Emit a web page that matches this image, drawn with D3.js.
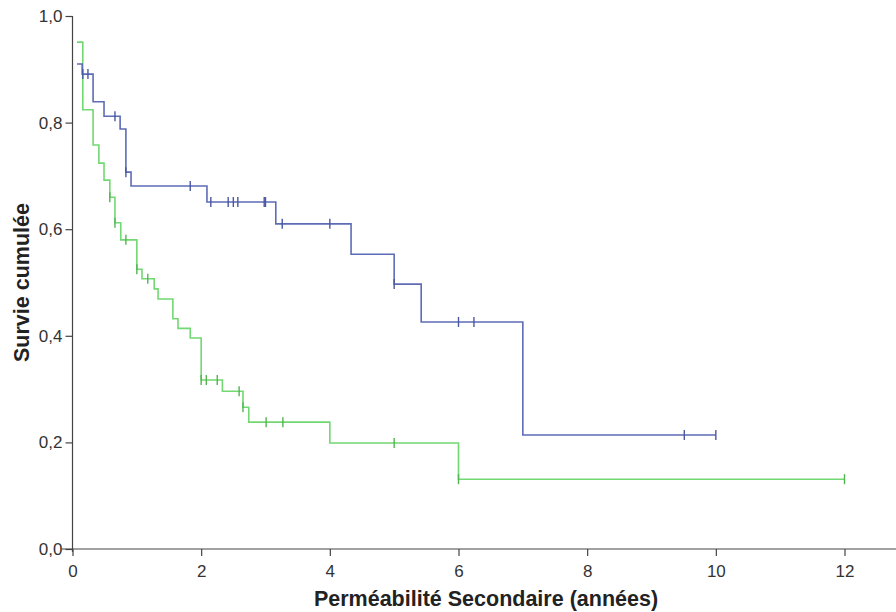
<!DOCTYPE html>
<html><head><meta charset="utf-8">
<script src="https://cdn.jsdelivr.net/npm/d3@7"></script>
<style>
html,body{margin:0;padding:0;background:#fff;}
svg{display:block;font-family:"Liberation Sans",Arial,sans-serif;}
</style></head>
<body><svg id="c" width="896" height="612"></svg>
<script>
// ---- data ----
const xTicks = [0, 2, 4, 6, 8, 10, 12];
const yTicks = [0, 0.2, 0.4, 0.6, 0.8, 1.0];

const blueStart = [0.07, 0.91];
const blueTimes = [0.15, 0.32, 0.49, 0.74, 0.83, 0.91, 2.09, 3.16, 4.33, 5.0, 5.42, 7.0];
const blueSurv  = [0.891, 0.839, 0.812, 0.788, 0.707, 0.681, 0.651, 0.610, 0.553, 0.497, 0.426, 0.214];
const blueCensor = [0.16, 0.24, 0.66, 0.83, 1.83, 2.15, 2.42, 2.50, 2.57, 2.98, 3.0, 3.26, 4.0, 5.0, 6.0, 6.24, 9.51, 10.0];

const greenStart = [0.07, 0.951];
const greenTimes = [0.16, 0.32, 0.41, 0.49, 0.58, 0.66, 0.75, 1.0, 1.08, 1.27, 1.33, 1.56, 1.64, 1.83, 2.0, 2.33, 2.65, 2.74, 4.0, 6.0];
const greenSurv  = [0.824, 0.758, 0.724, 0.692, 0.660, 0.612, 0.580, 0.525, 0.507, 0.488, 0.469, 0.432, 0.414, 0.396, 0.317, 0.296, 0.266, 0.238, 0.199, 0.131];
const greenCensor = [0.58, 0.66, 0.83, 1.0, 1.17, 2.0, 2.08, 2.25, 2.59, 2.65, 3.01, 3.27, 5.0, 6.0, 12.0];

const xTitle = "Perméabilité Secondaire (années)";
const yTitle = "Survie cumulée";

// ---- drawing ----
const svg = d3.select("#c");
const x = d3.scaleLinear().domain([0, 12]).range([72.5, 844.5]);
const y = d3.scaleLinear().domain([0, 1]).range([549, 16]);
const fmt = d => d.toFixed(1).replace(".", ",");
const axisCol = "#444";
const tickFont = "'Liberation Sans Narrow','Arial Narrow','Liberation Sans',Arial,sans-serif";

// x axis line extended
svg.append("line").attr("x1", 62).attr("x2", 896).attr("y1", y(0)).attr("y2", y(0))
  .attr("stroke", axisCol).attr("stroke-width", 1.2);
const gx = svg.append("g").attr("transform", `translate(0,${y(0)})`)
  .call(d3.axisBottom(x).tickValues(xTicks).tickFormat(d3.format("d")).tickSize(7).tickPadding(9));
gx.select(".domain").remove();
gx.selectAll("line").attr("stroke", axisCol).attr("stroke-width", 1.2);
gx.selectAll("text").attr("font-size", 17).attr("fill", "#333").style("font-family", tickFont);

const gy = svg.append("g").attr("transform", `translate(${x(0)},0)`)
  .call(d3.axisLeft(y).tickValues(yTicks).tickFormat(fmt).tickSize(7).tickPadding(3));
gy.select(".domain").attr("stroke", axisCol).attr("stroke-width", 1.2).attr("d", `M0,${y(1)}V${y(0)+3}`);
gy.selectAll("line").attr("stroke", axisCol).attr("stroke-width", 1.2);
gy.selectAll("text").attr("font-size", 17).attr("fill", "#333").style("font-family", tickFont);

function drawCurve(start, times, surv, censor, col, markCol) {
  const last = Math.max(d3.max(censor), d3.max(times));
  const pts = [start].concat(times.map((t, i) => [t, surv[i]]));
  pts.push([last, surv[surv.length - 1]]);
  svg.append("path").datum(pts)
    .attr("d", d3.line().x(d => x(d[0])).y(d => y(d[1])).curve(d3.curveStepAfter))
    .attr("fill", "none").attr("stroke", col).attr("stroke-width", 1.6);
  const survAt = t => {
    let s = start[1];
    times.forEach((tt, i) => { if (tt <= t + 1e-9) s = surv[i]; });
    return s;
  };
  svg.append("g").selectAll("line").data(censor).join("line")
    .attr("x1", d => x(d)).attr("x2", d => x(d))
    .attr("y1", d => y(survAt(d)) - 5).attr("y2", d => y(survAt(d)) + 5)
    .attr("stroke", markCol).attr("stroke-width", 1.4);
}
drawCurve(greenStart, greenTimes, greenSurv, greenCensor, "#72d872", "#52b452");
drawCurve(blueStart, blueTimes, blueSurv, blueCensor, "#5e6cb8", "#4a57a2");

svg.append("text").attr("x", 486).attr("y", 606).attr("text-anchor", "middle")
  .attr("font-size", 21.5).attr("font-weight", "bold").attr("fill", "#222").text(xTitle);
svg.append("text").attr("transform", `translate(29,${y(0.5)}) rotate(-90)`)
  .attr("text-anchor", "middle").attr("font-size", 21.5).attr("font-weight", "bold")
  .attr("fill", "#222").text(yTitle);
</script></body></html>
